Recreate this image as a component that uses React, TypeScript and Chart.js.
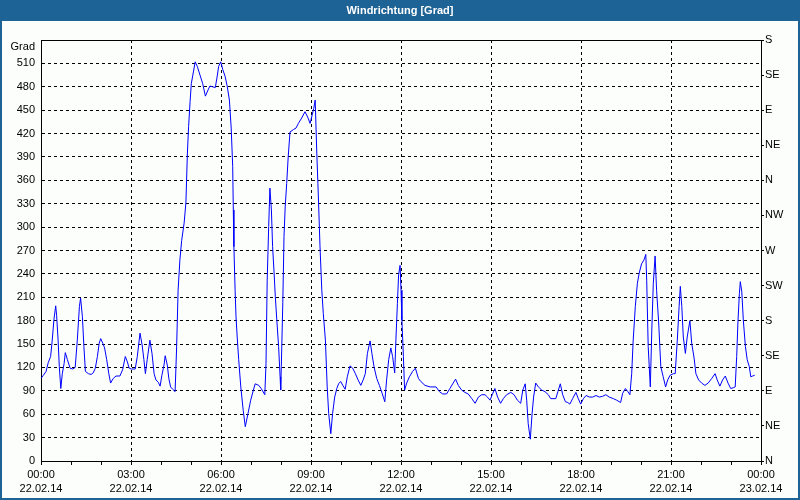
import React, { useEffect, useRef } from "react";
import { Chart, registerables } from "chart.js";

Chart.register(...registerables);

// Time of each reading, in hours since 22.02.14 00:00
const timeHours: number[] = [
  0.0, 0.08, 0.17, 0.24, 0.32, 0.37, 0.43, 0.49, 0.52, 0.57, 0.61, 0.66, 0.71, 0.77, 0.81, 0.88, 0.97,
  1.06, 1.14, 1.21, 1.28, 1.32, 1.38, 1.43, 1.48, 1.58, 1.67, 1.74, 1.81, 1.88, 1.94, 1.99,
  2.06, 2.12, 2.19, 2.26, 2.32, 2.41, 2.5, 2.63, 2.72, 2.81, 2.88, 2.94,
  3.01, 3.14, 3.21, 3.3, 3.37, 3.43, 3.48, 3.54, 3.63, 3.7, 3.77, 3.83, 3.91, 3.97,
  4.03, 4.1, 4.14, 4.21, 4.26, 4.32, 4.39, 4.47, 4.52, 4.57, 4.63, 4.69, 4.77, 4.83, 4.88, 4.92, 4.97,
  5.01, 5.08, 5.14, 5.21, 5.3, 5.39, 5.48, 5.57, 5.63, 5.72, 5.81, 5.88, 5.92, 5.99,
  6.06, 6.14, 6.21, 6.28, 6.34, 6.39, 6.41, 6.43, 6.47, 6.5, 6.54, 6.59, 6.66, 6.74, 6.81, 6.9, 6.99,
  7.08, 7.14, 7.26, 7.34, 7.46, 7.5, 7.54, 7.59, 7.63, 7.68, 7.72, 7.77, 7.81, 7.86, 7.92, 7.97, 7.99,
  8.01, 8.06, 8.1, 8.14, 8.19, 8.24, 8.3, 8.41, 8.5, 8.58, 8.69, 8.8, 8.89, 8.97,
  9.04, 9.09, 9.14, 9.19, 9.23, 9.26, 9.3, 9.36, 9.41, 9.48, 9.54, 9.59, 9.66, 9.72, 9.79, 9.86, 9.92, 9.99,
  10.06, 10.14, 10.21, 10.3, 10.39, 10.48, 10.57, 10.66, 10.74, 10.81, 10.88, 10.97,
  11.03, 11.1, 11.19, 11.28, 11.37, 11.46, 11.52, 11.59, 11.66, 11.72, 11.79, 11.83, 11.88, 11.92, 11.97,
  12.0, 12.03, 12.08, 12.12, 12.19, 12.28, 12.39, 12.48, 12.58, 12.66, 12.8, 12.97,
  13.17, 13.28, 13.39, 13.52, 13.63, 13.74, 13.82, 13.91,
  14.02, 14.13, 14.24, 14.36, 14.47, 14.58, 14.69, 14.8, 14.88, 14.97,
  15.04, 15.13, 15.22, 15.32, 15.41, 15.52, 15.66, 15.77, 15.88, 15.99,
  16.06, 16.14, 16.19, 16.24, 16.31, 16.37, 16.42, 16.49, 16.58, 16.69, 16.8, 16.91, 16.99,
  17.16, 17.23, 17.31, 17.39, 17.48, 17.56, 17.63, 17.72, 17.83, 17.91, 17.99,
  18.08, 18.17, 18.28, 18.39, 18.5, 18.61, 18.72, 18.83, 18.94,
  19.08, 19.19, 19.32, 19.39, 19.48, 19.56, 19.63, 19.69, 19.74, 19.81, 19.88, 19.94,
  20.02, 20.1, 20.16, 20.19, 20.24, 20.31, 20.36, 20.41, 20.47, 20.52, 20.59, 20.66, 20.74, 20.82, 20.89, 20.97,
  21.08, 21.14, 21.21, 21.27, 21.31, 21.36, 21.41, 21.48, 21.54, 21.63, 21.69, 21.77, 21.83, 21.92,
  22.02, 22.13, 22.24, 22.36, 22.47, 22.54, 22.63, 22.72, 22.81, 22.9, 22.99,
  23.08, 23.14, 23.19, 23.23, 23.28, 23.31, 23.36, 23.41, 23.48, 23.54, 23.61, 23.66, 23.72, 23.79,
];

// Wind direction in degrees
const directionDeg: number[] = [
  106, 110, 115, 126, 134, 153, 181, 199, 187, 155, 121, 93, 112, 125, 139, 130, 119,
  118, 120, 155, 198, 209, 185, 147, 115, 112, 111, 113, 119, 134, 151, 157,
  151, 145, 130, 112, 100, 106, 109, 109, 117, 134, 127, 119,
  118, 118, 134, 164, 149, 130, 112, 130, 155, 138, 112, 104, 101, 96,
  110, 123, 135, 123, 106, 95, 92, 89, 145, 219, 258, 283, 305, 331, 395, 429, 461,
  484, 499, 512, 506, 495, 484, 468, 476, 481, 480, 479, 495, 506, 512,
  502, 493, 480, 463, 427, 378, 322, 275, 219, 185, 159, 130, 95, 65, 44, 61, 78,
  91, 99, 97, 93, 85, 125, 232, 301, 350, 322, 275, 241, 211, 181, 147, 108, 91,
  121, 203, 288, 326, 356, 390, 422, 425, 427, 433, 440, 448, 441, 433,
  444, 452, 463, 399, 356, 322, 275, 219, 189, 155, 95, 61, 35, 61, 82, 93, 99, 102,
  97, 92, 108, 122, 119, 112, 104, 97, 104, 112, 138, 154,
  138, 121, 106, 97, 87, 76, 104, 130, 145, 134, 113, 155, 202, 239, 251,
  219, 181, 134, 91, 100, 108, 115, 119, 106, 102, 97, 95,
  95, 89, 86, 86, 93, 100, 105, 97,
  91, 88, 86, 80, 74, 82, 85, 85, 82, 78,
  85, 93, 82, 74, 80, 85, 88, 85, 78, 74,
  91, 99, 78, 48, 28, 61, 82, 100, 95, 91, 89, 85, 80,
  80, 89, 99, 85, 76, 75, 73, 80, 88, 80, 73,
  80, 84, 82, 82, 84, 82, 83, 85, 82,
  80, 78, 75, 87, 93, 89, 85, 112, 155, 198, 228, 241,
  253, 258, 265, 232, 147, 95, 168, 228, 263, 219, 177, 121, 108, 95, 104, 110,
  112, 112, 155, 198, 224, 198, 159, 138, 159, 180, 151, 132, 112, 104,
  100, 97, 100, 106, 112, 104, 96, 104, 109, 100, 93,
  94, 95, 134, 177, 215, 230, 217, 181, 147, 130, 121, 108, 109, 110,
];

// Axis labels
const hourLabels: string[] = ["00:00", "03:00", "06:00", "09:00", "12:00", "15:00", "18:00", "21:00", "00:00"];
const dateLabels: string[] = ["22.02.14", "22.02.14", "22.02.14", "22.02.14", "22.02.14", "22.02.14", "22.02.14", "22.02.14", "23.02.14"];
const compassLabels: string[] = ["N", "NE", "E", "SE", "S", "SW", "W", "NW", "N", "NE", "E", "SE", "S"];
const unitLabel = "Grad";
const titleText = "Windrichtung [Grad]";

const FONT = "'Liberation Sans', Arial, sans-serif";

const framePlugin = {
  id: "frame",
  beforeDraw(chart: any) {
    const { ctx, width, height } = chart;
    ctx.save();
    ctx.fillStyle = "#fbfefb";
    ctx.fillRect(0, 0, width, height);
    ctx.fillStyle = "#1e6396";
    ctx.fillRect(0, 0, width, 21);
    ctx.fillRect(0, 0, 2, height);
    ctx.fillRect(width - 2, 0, 2, height);
    ctx.fillRect(0, height - 2, width, 2);
    ctx.restore();
  },
  afterDraw(chart: any) {
    const { ctx, chartArea } = chart;
    ctx.save();
    ctx.strokeStyle = "#000";
    ctx.lineWidth = 1;
    ctx.beginPath();
    ctx.moveTo(chartArea.left, Math.round(chartArea.top) + 0.5);
    ctx.lineTo(chartArea.right + 1, Math.round(chartArea.top) + 0.5);
    ctx.stroke();
    ctx.restore();
  },
};

export default function App() {
  const ref = useRef<HTMLCanvasElement>(null);

  useEffect(() => {
    document.body.style.margin = "0";
    const canvas = ref.current!;
    const data = timeHours.map((t, i) => ({ x: t, y: directionDeg[i] }));
    const chart = new Chart(canvas, {
      type: "line",
      data: {
        datasets: [
          {
            label: titleText,
            data,
            borderColor: "#0000ff",
            borderWidth: 1,
            pointRadius: 0,
            tension: 0,
            fill: false,
            yAxisID: "y",
          },
        ],
      },
      options: {
        responsive: false,
        animation: false,
        devicePixelRatio: 1,
        layout: { padding: 0 },
        plugins: {
          legend: { display: false },
          tooltip: { enabled: false },
          title: {
            display: true,
            text: titleText,
            color: "#ffffff",
            font: { family: FONT, size: 11, weight: "bold", lineHeight: "15px" },
            padding: { top: 3, bottom: 22 },
          },
        },
        scales: {
          x: {
            type: "linear",
            min: 0,
            max: 24,
            afterFit: (s: any) => {
              s.height = 39;
            },
            ticks: {
              stepSize: 1,
              autoSkip: false,
              maxRotation: 0,
              padding: 3,
              color: "#000",
              font: { family: FONT, size: 11, lineHeight: "14px" },
              callback: (v: any) => {
                const n = Number(v);
                if (n % 3 !== 0) return "";
                const i = n / 3;
                return [hourLabels[i], dateLabels[i]];
              },
            },
            grid: {
              color: (c: any) => {
                const v = c.tick ? c.tick.value : 0;
                return v % 3 === 0 && v !== 0 && v !== 24 ? "#000" : "rgba(0,0,0,0)";
              },
              tickColor: "#000",
              tickLength: 4,
              lineWidth: 1,
            },
            border: { display: true, color: "#000", width: 1, dash: [3, 3] },
          },
          y: {
            type: "linear",
            position: "left",
            min: 0,
            max: 540,
            afterFit: (s: any) => {
              s.width = 41;
            },
            ticks: {
              stepSize: 30,
              autoSkip: false,
              padding: 6,
              color: "#000",
              font: { family: FONT, size: 11, lineHeight: "13px" },
              callback: (v: any) => (Number(v) === 540 ? ["", unitLabel] : String(v)),
            },
            grid: {
              color: (c: any) => {
                const v = c.tick ? c.tick.value : 0;
                return v !== 0 && v !== 540 ? "#000" : "rgba(0,0,0,0)";
              },
              drawTicks: false,
              lineWidth: 1,
            },
            border: { display: true, color: "#000", width: 1, dash: [3, 3] },
          },
          yRight: {
            type: "linear",
            position: "right",
            min: 0,
            max: 540,
            afterFit: (s: any) => {
              s.width = 39;
            },
            ticks: {
              stepSize: 45,
              autoSkip: false,
              padding: 1,
              color: "#000",
              font: { family: FONT, size: 11 },
              callback: (v: any) => compassLabels[Math.round(Number(v) / 45)] ?? "",
            },
            grid: {
              drawOnChartArea: false,
              tickColor: "#000",
              tickLength: 3,
            },
            border: { display: true, color: "#000", width: 1 },
          },
        },
      },
      plugins: [framePlugin],
    });
    return () => chart.destroy();
  }, []);

  return (
    <div style={{ width: 800, height: 500 }}>
      <canvas ref={ref} width={800} height={500} style={{ display: "block" }} />
    </div>
  );
}
